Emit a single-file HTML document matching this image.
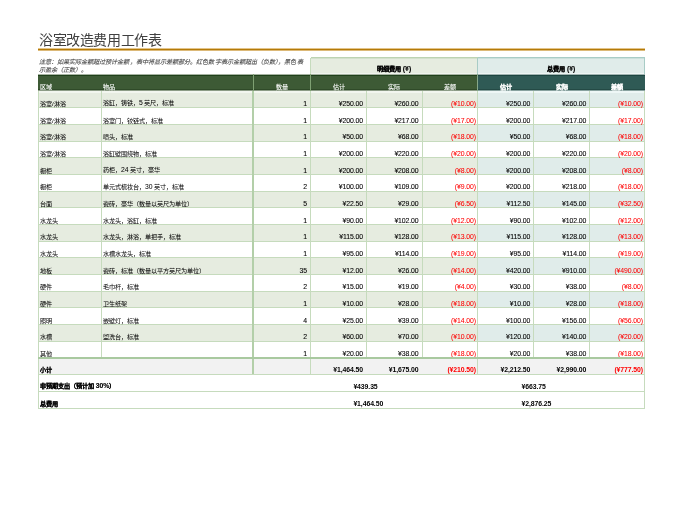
<!DOCTYPE html>
<html lang="zh-CN"><head><meta charset="utf-8"><style>
html,body{margin:0;padding:0;background:#fff;width:675px;height:520px;overflow:hidden;}
body{position:relative;font-family:"Liberation Sans",sans-serif;}
div{position:absolute;box-sizing:border-box;}
.t>span{display:block;}
#wrap{left:0;top:0;width:675px;height:520px;will-change:transform;}
.t{display:flex;align-items:flex-end;white-space:nowrap;line-height:1;color:#000;}
.cj{font-size:6.15px;-webkit-text-stroke:0.03px currentColor;}
.cj .d{font-size:6.8px;}
.num{font-size:6.9px;letter-spacing:-0.1px;-webkit-text-stroke:0.08px currentColor;}
.num.b{-webkit-text-stroke:0;}
.w{color:#fff;-webkit-text-stroke:0.08px #fff;}
.b{font-weight:bold;}
.cj.b{-webkit-text-stroke:0.15px currentColor;}
.red{color:#f00;}
.num.red{-webkit-text-stroke:0.05px #f00;}
.num.b.red{-webkit-text-stroke:0;}
#title{left:39px;top:33.2px;font-size:14px;letter-spacing:-0.4px;color:#404040;white-space:nowrap;line-height:1;}
#gold{left:38.3px;top:48.5px;width:606.5px;height:2px;background:#c48a12;}
#note{left:38.5px;top:57.5px;width:300px;font-size:6.1px;line-height:8.8px;letter-spacing:0.07px;font-style:italic;color:#4a4a4a;-webkit-text-stroke:0.1px #4a4a4a;white-space:nowrap;}
</style></head><body><div id="wrap">
<div id="title">浴室改造费用工作表</div>
<div style="left:38.3px;top:48px;width:606.5px;height:1px;background:#e3c48a;"></div><div style="left:38.3px;top:49px;width:606.5px;height:1px;background:#b47a08;"></div><div style="left:38.3px;top:50px;width:606.5px;height:1px;background:#dcb978;"></div>
<div id="note">注意：如果实际金额超过预计金额，表中将显示差额部分。红色数字表示金额超出（负数），黑色表<br>示盈余（正数）<span style="margin-left:3px">。</span></div>
<div style="left:310.50px;top:57.00px;width:167.30px;height:16.00px;background:#e6ece0;"></div>
<div style="left:477.80px;top:57.00px;width:167.00px;height:16.00px;background:#e0ecea;"></div>
<div style="left:310.50px;top:73.00px;width:167.30px;height:1.00px;background:#f0f4ee;"></div>
<div style="left:477.80px;top:73.00px;width:167.00px;height:1.00px;background:#eef5f4;"></div>
<div style="left:310.50px;top:57.00px;width:167.30px;height:1.00px;background:#bcd3b2;"></div>
<div style="left:477.80px;top:57.00px;width:167.00px;height:1.00px;background:#a8ccc6;"></div>
<div style="left:310.50px;top:58.00px;width:167.30px;height:1.00px;background:#d3e1cc;"></div>
<div style="left:477.80px;top:58.00px;width:167.00px;height:1.00px;background:#cbe0dc;"></div>
<div style="left:38.30px;top:74.00px;width:439.50px;height:1.00px;background:#a6b3a1;"></div>
<div style="left:477.80px;top:74.00px;width:167.00px;height:1.00px;background:#9fb3b0;"></div>
<div style="left:38.30px;top:75.00px;width:439.50px;height:1.00px;background:#1f401a;"></div>
<div style="left:477.80px;top:75.00px;width:167.00px;height:1.00px;background:#1c4540;"></div>
<div style="left:38.30px;top:76.00px;width:439.50px;height:13.00px;background:#3d5a35;"></div>
<div style="left:477.80px;top:76.00px;width:167.00px;height:13.00px;background:#2f5a55;"></div>
<div style="left:38.30px;top:89.00px;width:439.50px;height:1.00px;background:#2f4a28;"></div>
<div style="left:477.80px;top:89.00px;width:167.00px;height:1.00px;background:#244a45;"></div>
<div style="left:38.30px;top:90.00px;width:439.50px;height:1.00px;background:#8c9c86;"></div>
<div style="left:477.80px;top:90.00px;width:167.00px;height:1.00px;background:#88a29f;"></div>
<div style="left:38.30px;top:93.00px;width:439.50px;height:14.84px;background:#e6ece0;"></div>
<div style="left:477.80px;top:93.00px;width:167.00px;height:14.84px;background:#e0ecea;"></div>
<div style="left:38.30px;top:91.00px;width:439.50px;height:2.00px;background:#f2f6ef;"></div>
<div style="left:477.80px;top:91.00px;width:167.00px;height:2.00px;background:#eef7f6;"></div>
<div style="left:38.30px;top:124.52px;width:439.50px;height:16.67px;background:#e6ece0;"></div>
<div style="left:477.80px;top:124.52px;width:167.00px;height:16.67px;background:#e0ecea;"></div>
<div style="left:38.30px;top:157.87px;width:439.50px;height:16.67px;background:#e6ece0;"></div>
<div style="left:477.80px;top:157.87px;width:167.00px;height:16.67px;background:#e0ecea;"></div>
<div style="left:38.30px;top:191.21px;width:439.50px;height:16.67px;background:#e6ece0;"></div>
<div style="left:477.80px;top:191.21px;width:167.00px;height:16.67px;background:#e0ecea;"></div>
<div style="left:38.30px;top:224.56px;width:439.50px;height:16.67px;background:#e6ece0;"></div>
<div style="left:477.80px;top:224.56px;width:167.00px;height:16.67px;background:#e0ecea;"></div>
<div style="left:38.30px;top:257.91px;width:439.50px;height:16.67px;background:#e6ece0;"></div>
<div style="left:477.80px;top:257.91px;width:167.00px;height:16.67px;background:#e0ecea;"></div>
<div style="left:38.30px;top:291.26px;width:439.50px;height:16.67px;background:#e6ece0;"></div>
<div style="left:477.80px;top:291.26px;width:167.00px;height:16.67px;background:#e0ecea;"></div>
<div style="left:38.30px;top:324.61px;width:439.50px;height:16.67px;background:#e6ece0;"></div>
<div style="left:477.80px;top:324.61px;width:167.00px;height:16.67px;background:#e0ecea;"></div>
<div style="left:38.30px;top:357.95px;width:606.50px;height:16.45px;background:#f2f2f2;"></div>
<div style="left:38.30px;top:107.34px;width:606.50px;height:1.00px;background:#c6dbbd;"></div>
<div style="left:38.30px;top:124.02px;width:606.50px;height:1.00px;background:#c6dbbd;"></div>
<div style="left:38.30px;top:140.69px;width:606.50px;height:1.00px;background:#c6dbbd;"></div>
<div style="left:38.30px;top:157.37px;width:606.50px;height:1.00px;background:#c6dbbd;"></div>
<div style="left:38.30px;top:174.04px;width:606.50px;height:1.00px;background:#c6dbbd;"></div>
<div style="left:38.30px;top:190.71px;width:606.50px;height:1.00px;background:#c6dbbd;"></div>
<div style="left:38.30px;top:207.39px;width:606.50px;height:1.00px;background:#c6dbbd;"></div>
<div style="left:38.30px;top:224.06px;width:606.50px;height:1.00px;background:#c6dbbd;"></div>
<div style="left:38.30px;top:240.74px;width:606.50px;height:1.00px;background:#c6dbbd;"></div>
<div style="left:38.30px;top:257.41px;width:606.50px;height:1.00px;background:#c6dbbd;"></div>
<div style="left:38.30px;top:274.08px;width:606.50px;height:1.00px;background:#c6dbbd;"></div>
<div style="left:38.30px;top:290.76px;width:606.50px;height:1.00px;background:#c6dbbd;"></div>
<div style="left:38.30px;top:307.43px;width:606.50px;height:1.00px;background:#c6dbbd;"></div>
<div style="left:38.30px;top:324.11px;width:606.50px;height:1.00px;background:#c6dbbd;"></div>
<div style="left:38.30px;top:340.78px;width:606.50px;height:1.00px;background:#c6dbbd;"></div>
<div style="left:310.00px;top:57.70px;width:1.00px;height:16.30px;background:#c6dbbd;"></div>
<div style="left:477.30px;top:57.70px;width:1.00px;height:16.30px;background:#a8ccc6;"></div>
<div style="left:644.30px;top:57.70px;width:1.00px;height:16.30px;background:#a8ccc6;"></div>
<div style="left:252.60px;top:74.00px;width:1.00px;height:17.17px;background:#7fa173;"></div>
<div style="left:310.00px;top:74.00px;width:1.00px;height:17.17px;background:#7fa173;"></div>
<div style="left:477.30px;top:74.00px;width:1.00px;height:17.17px;background:#86a88a;"></div>
<div style="left:37.80px;top:91.17px;width:1.00px;height:266.78px;background:#c6dbbd;"></div>
<div style="left:100.80px;top:91.17px;width:1.00px;height:266.78px;background:#c6dbbd;"></div>
<div style="left:310.00px;top:91.17px;width:1.00px;height:266.78px;background:#c6dbbd;"></div>
<div style="left:366.10px;top:91.17px;width:1.00px;height:266.78px;background:#c6dbbd;"></div>
<div style="left:421.70px;top:91.17px;width:1.00px;height:266.78px;background:#c6dbbd;"></div>
<div style="left:477.30px;top:91.17px;width:1.00px;height:266.78px;background:#c6dbbd;"></div>
<div style="left:533.30px;top:91.17px;width:1.00px;height:266.78px;background:#c6dbbd;"></div>
<div style="left:589.30px;top:91.17px;width:1.00px;height:266.78px;background:#c6dbbd;"></div>
<div style="left:644.30px;top:91.17px;width:1.00px;height:266.78px;background:#c6dbbd;"></div>
<div style="left:252.10px;top:91.17px;width:2.00px;height:283.23px;background:#b3cfa9;"></div>
<div style="left:37.80px;top:357.95px;width:1.00px;height:16.45px;background:#c6dbbd;"></div>
<div style="left:310.00px;top:357.95px;width:1.00px;height:16.45px;background:#c6dbbd;"></div>
<div style="left:477.30px;top:357.95px;width:1.00px;height:16.45px;background:#c6dbbd;"></div>
<div style="left:644.30px;top:357.95px;width:1.00px;height:16.45px;background:#c6dbbd;"></div>
<div class="t cj" style="left:40.10px;top:87.04px;width:61.20px;height:20px;justify-content:flex-start;"><span>浴室/淋浴</span></div>
<div class="t cj" style="left:102.90px;top:87.04px;width:150.20px;height:20px;justify-content:flex-start;"><span>浴缸，铸铁，<span class=d>5</span> 英尺，标准</span></div>
<div class="t num" style="left:253.10px;top:87.84px;width:53.80px;height:20px;justify-content:flex-end;"><span>1</span></div>
<div class="t num" style="left:310.50px;top:87.84px;width:52.50px;height:20px;justify-content:flex-end;"><span>¥250.00</span></div>
<div class="t num" style="left:366.60px;top:87.84px;width:52.00px;height:20px;justify-content:flex-end;"><span>¥260.00</span></div>
<div class="t num red" style="left:422.20px;top:87.84px;width:53.80px;height:20px;justify-content:flex-end;"><span>(¥10.00)</span></div>
<div class="t num" style="left:477.80px;top:87.84px;width:52.40px;height:20px;justify-content:flex-end;"><span>¥250.00</span></div>
<div class="t num" style="left:533.80px;top:87.84px;width:52.40px;height:20px;justify-content:flex-end;"><span>¥260.00</span></div>
<div class="t num red" style="left:589.80px;top:87.84px;width:53.20px;height:20px;justify-content:flex-end;"><span>(¥10.00)</span></div>
<div class="t cj" style="left:40.10px;top:103.72px;width:61.20px;height:20px;justify-content:flex-start;"><span>浴室/淋浴</span></div>
<div class="t cj" style="left:102.90px;top:103.72px;width:150.20px;height:20px;justify-content:flex-start;"><span>浴室门，铰链式，标准</span></div>
<div class="t num" style="left:253.10px;top:104.52px;width:53.80px;height:20px;justify-content:flex-end;"><span>1</span></div>
<div class="t num" style="left:310.50px;top:104.52px;width:52.50px;height:20px;justify-content:flex-end;"><span>¥200.00</span></div>
<div class="t num" style="left:366.60px;top:104.52px;width:52.00px;height:20px;justify-content:flex-end;"><span>¥217.00</span></div>
<div class="t num red" style="left:422.20px;top:104.52px;width:53.80px;height:20px;justify-content:flex-end;"><span>(¥17.00)</span></div>
<div class="t num" style="left:477.80px;top:104.52px;width:52.40px;height:20px;justify-content:flex-end;"><span>¥200.00</span></div>
<div class="t num" style="left:533.80px;top:104.52px;width:52.40px;height:20px;justify-content:flex-end;"><span>¥217.00</span></div>
<div class="t num red" style="left:589.80px;top:104.52px;width:53.20px;height:20px;justify-content:flex-end;"><span>(¥17.00)</span></div>
<div class="t cj" style="left:40.10px;top:120.39px;width:61.20px;height:20px;justify-content:flex-start;"><span>浴室/淋浴</span></div>
<div class="t cj" style="left:102.90px;top:120.39px;width:150.20px;height:20px;justify-content:flex-start;"><span>喷头，标准</span></div>
<div class="t num" style="left:253.10px;top:121.19px;width:53.80px;height:20px;justify-content:flex-end;"><span>1</span></div>
<div class="t num" style="left:310.50px;top:121.19px;width:52.50px;height:20px;justify-content:flex-end;"><span>¥50.00</span></div>
<div class="t num" style="left:366.60px;top:121.19px;width:52.00px;height:20px;justify-content:flex-end;"><span>¥68.00</span></div>
<div class="t num red" style="left:422.20px;top:121.19px;width:53.80px;height:20px;justify-content:flex-end;"><span>(¥18.00)</span></div>
<div class="t num" style="left:477.80px;top:121.19px;width:52.40px;height:20px;justify-content:flex-end;"><span>¥50.00</span></div>
<div class="t num" style="left:533.80px;top:121.19px;width:52.40px;height:20px;justify-content:flex-end;"><span>¥68.00</span></div>
<div class="t num red" style="left:589.80px;top:121.19px;width:53.20px;height:20px;justify-content:flex-end;"><span>(¥18.00)</span></div>
<div class="t cj" style="left:40.10px;top:137.07px;width:61.20px;height:20px;justify-content:flex-start;"><span>浴室/淋浴</span></div>
<div class="t cj" style="left:102.90px;top:137.07px;width:150.20px;height:20px;justify-content:flex-start;"><span>浴缸壁围绕物，标准</span></div>
<div class="t num" style="left:253.10px;top:137.87px;width:53.80px;height:20px;justify-content:flex-end;"><span>1</span></div>
<div class="t num" style="left:310.50px;top:137.87px;width:52.50px;height:20px;justify-content:flex-end;"><span>¥200.00</span></div>
<div class="t num" style="left:366.60px;top:137.87px;width:52.00px;height:20px;justify-content:flex-end;"><span>¥220.00</span></div>
<div class="t num red" style="left:422.20px;top:137.87px;width:53.80px;height:20px;justify-content:flex-end;"><span>(¥20.00)</span></div>
<div class="t num" style="left:477.80px;top:137.87px;width:52.40px;height:20px;justify-content:flex-end;"><span>¥200.00</span></div>
<div class="t num" style="left:533.80px;top:137.87px;width:52.40px;height:20px;justify-content:flex-end;"><span>¥220.00</span></div>
<div class="t num red" style="left:589.80px;top:137.87px;width:53.20px;height:20px;justify-content:flex-end;"><span>(¥20.00)</span></div>
<div class="t cj" style="left:40.10px;top:153.74px;width:61.20px;height:20px;justify-content:flex-start;"><span>橱柜</span></div>
<div class="t cj" style="left:102.90px;top:153.74px;width:150.20px;height:20px;justify-content:flex-start;"><span>药柜，<span class=d>24</span> 英寸，豪华</span></div>
<div class="t num" style="left:253.10px;top:154.54px;width:53.80px;height:20px;justify-content:flex-end;"><span>1</span></div>
<div class="t num" style="left:310.50px;top:154.54px;width:52.50px;height:20px;justify-content:flex-end;"><span>¥200.00</span></div>
<div class="t num" style="left:366.60px;top:154.54px;width:52.00px;height:20px;justify-content:flex-end;"><span>¥208.00</span></div>
<div class="t num red" style="left:422.20px;top:154.54px;width:53.80px;height:20px;justify-content:flex-end;"><span>(¥8.00)</span></div>
<div class="t num" style="left:477.80px;top:154.54px;width:52.40px;height:20px;justify-content:flex-end;"><span>¥200.00</span></div>
<div class="t num" style="left:533.80px;top:154.54px;width:52.40px;height:20px;justify-content:flex-end;"><span>¥208.00</span></div>
<div class="t num red" style="left:589.80px;top:154.54px;width:53.20px;height:20px;justify-content:flex-end;"><span>(¥8.00)</span></div>
<div class="t cj" style="left:40.10px;top:170.41px;width:61.20px;height:20px;justify-content:flex-start;"><span>橱柜</span></div>
<div class="t cj" style="left:102.90px;top:170.41px;width:150.20px;height:20px;justify-content:flex-start;"><span>单元式梳妆台，<span class=d>30</span> 英寸，标准</span></div>
<div class="t num" style="left:253.10px;top:171.21px;width:53.80px;height:20px;justify-content:flex-end;"><span>2</span></div>
<div class="t num" style="left:310.50px;top:171.21px;width:52.50px;height:20px;justify-content:flex-end;"><span>¥100.00</span></div>
<div class="t num" style="left:366.60px;top:171.21px;width:52.00px;height:20px;justify-content:flex-end;"><span>¥109.00</span></div>
<div class="t num red" style="left:422.20px;top:171.21px;width:53.80px;height:20px;justify-content:flex-end;"><span>(¥9.00)</span></div>
<div class="t num" style="left:477.80px;top:171.21px;width:52.40px;height:20px;justify-content:flex-end;"><span>¥200.00</span></div>
<div class="t num" style="left:533.80px;top:171.21px;width:52.40px;height:20px;justify-content:flex-end;"><span>¥218.00</span></div>
<div class="t num red" style="left:589.80px;top:171.21px;width:53.20px;height:20px;justify-content:flex-end;"><span>(¥18.00)</span></div>
<div class="t cj" style="left:40.10px;top:187.09px;width:61.20px;height:20px;justify-content:flex-start;"><span>台面</span></div>
<div class="t cj" style="left:102.90px;top:187.09px;width:150.20px;height:20px;justify-content:flex-start;"><span>瓷砖，豪华（数量以英尺为单位）</span></div>
<div class="t num" style="left:253.10px;top:187.89px;width:53.80px;height:20px;justify-content:flex-end;"><span>5</span></div>
<div class="t num" style="left:310.50px;top:187.89px;width:52.50px;height:20px;justify-content:flex-end;"><span>¥22.50</span></div>
<div class="t num" style="left:366.60px;top:187.89px;width:52.00px;height:20px;justify-content:flex-end;"><span>¥29.00</span></div>
<div class="t num red" style="left:422.20px;top:187.89px;width:53.80px;height:20px;justify-content:flex-end;"><span>(¥6.50)</span></div>
<div class="t num" style="left:477.80px;top:187.89px;width:52.40px;height:20px;justify-content:flex-end;"><span>¥112.50</span></div>
<div class="t num" style="left:533.80px;top:187.89px;width:52.40px;height:20px;justify-content:flex-end;"><span>¥145.00</span></div>
<div class="t num red" style="left:589.80px;top:187.89px;width:53.20px;height:20px;justify-content:flex-end;"><span>(¥32.50)</span></div>
<div class="t cj" style="left:40.10px;top:203.76px;width:61.20px;height:20px;justify-content:flex-start;"><span>水龙头</span></div>
<div class="t cj" style="left:102.90px;top:203.76px;width:150.20px;height:20px;justify-content:flex-start;"><span>水龙头，浴缸，标准</span></div>
<div class="t num" style="left:253.10px;top:204.56px;width:53.80px;height:20px;justify-content:flex-end;"><span>1</span></div>
<div class="t num" style="left:310.50px;top:204.56px;width:52.50px;height:20px;justify-content:flex-end;"><span>¥90.00</span></div>
<div class="t num" style="left:366.60px;top:204.56px;width:52.00px;height:20px;justify-content:flex-end;"><span>¥102.00</span></div>
<div class="t num red" style="left:422.20px;top:204.56px;width:53.80px;height:20px;justify-content:flex-end;"><span>(¥12.00)</span></div>
<div class="t num" style="left:477.80px;top:204.56px;width:52.40px;height:20px;justify-content:flex-end;"><span>¥90.00</span></div>
<div class="t num" style="left:533.80px;top:204.56px;width:52.40px;height:20px;justify-content:flex-end;"><span>¥102.00</span></div>
<div class="t num red" style="left:589.80px;top:204.56px;width:53.20px;height:20px;justify-content:flex-end;"><span>(¥12.00)</span></div>
<div class="t cj" style="left:40.10px;top:220.44px;width:61.20px;height:20px;justify-content:flex-start;"><span>水龙头</span></div>
<div class="t cj" style="left:102.90px;top:220.44px;width:150.20px;height:20px;justify-content:flex-start;"><span>水龙头，淋浴，单把手，标准</span></div>
<div class="t num" style="left:253.10px;top:221.24px;width:53.80px;height:20px;justify-content:flex-end;"><span>1</span></div>
<div class="t num" style="left:310.50px;top:221.24px;width:52.50px;height:20px;justify-content:flex-end;"><span>¥115.00</span></div>
<div class="t num" style="left:366.60px;top:221.24px;width:52.00px;height:20px;justify-content:flex-end;"><span>¥128.00</span></div>
<div class="t num red" style="left:422.20px;top:221.24px;width:53.80px;height:20px;justify-content:flex-end;"><span>(¥13.00)</span></div>
<div class="t num" style="left:477.80px;top:221.24px;width:52.40px;height:20px;justify-content:flex-end;"><span>¥115.00</span></div>
<div class="t num" style="left:533.80px;top:221.24px;width:52.40px;height:20px;justify-content:flex-end;"><span>¥128.00</span></div>
<div class="t num red" style="left:589.80px;top:221.24px;width:53.20px;height:20px;justify-content:flex-end;"><span>(¥13.00)</span></div>
<div class="t cj" style="left:40.10px;top:237.11px;width:61.20px;height:20px;justify-content:flex-start;"><span>水龙头</span></div>
<div class="t cj" style="left:102.90px;top:237.11px;width:150.20px;height:20px;justify-content:flex-start;"><span>水槽水龙头，标准</span></div>
<div class="t num" style="left:253.10px;top:237.91px;width:53.80px;height:20px;justify-content:flex-end;"><span>1</span></div>
<div class="t num" style="left:310.50px;top:237.91px;width:52.50px;height:20px;justify-content:flex-end;"><span>¥95.00</span></div>
<div class="t num" style="left:366.60px;top:237.91px;width:52.00px;height:20px;justify-content:flex-end;"><span>¥114.00</span></div>
<div class="t num red" style="left:422.20px;top:237.91px;width:53.80px;height:20px;justify-content:flex-end;"><span>(¥19.00)</span></div>
<div class="t num" style="left:477.80px;top:237.91px;width:52.40px;height:20px;justify-content:flex-end;"><span>¥95.00</span></div>
<div class="t num" style="left:533.80px;top:237.91px;width:52.40px;height:20px;justify-content:flex-end;"><span>¥114.00</span></div>
<div class="t num red" style="left:589.80px;top:237.91px;width:53.20px;height:20px;justify-content:flex-end;"><span>(¥19.00)</span></div>
<div class="t cj" style="left:40.10px;top:253.78px;width:61.20px;height:20px;justify-content:flex-start;"><span>地板</span></div>
<div class="t cj" style="left:102.90px;top:253.78px;width:150.20px;height:20px;justify-content:flex-start;"><span>瓷砖，标准（数量以平方英尺为单位）</span></div>
<div class="t num" style="left:253.10px;top:254.58px;width:53.80px;height:20px;justify-content:flex-end;"><span>35</span></div>
<div class="t num" style="left:310.50px;top:254.58px;width:52.50px;height:20px;justify-content:flex-end;"><span>¥12.00</span></div>
<div class="t num" style="left:366.60px;top:254.58px;width:52.00px;height:20px;justify-content:flex-end;"><span>¥26.00</span></div>
<div class="t num red" style="left:422.20px;top:254.58px;width:53.80px;height:20px;justify-content:flex-end;"><span>(¥14.00)</span></div>
<div class="t num" style="left:477.80px;top:254.58px;width:52.40px;height:20px;justify-content:flex-end;"><span>¥420.00</span></div>
<div class="t num" style="left:533.80px;top:254.58px;width:52.40px;height:20px;justify-content:flex-end;"><span>¥910.00</span></div>
<div class="t num red" style="left:589.80px;top:254.58px;width:53.20px;height:20px;justify-content:flex-end;"><span>(¥490.00)</span></div>
<div class="t cj" style="left:40.10px;top:270.46px;width:61.20px;height:20px;justify-content:flex-start;"><span>硬件</span></div>
<div class="t cj" style="left:102.90px;top:270.46px;width:150.20px;height:20px;justify-content:flex-start;"><span>毛巾杆，标准</span></div>
<div class="t num" style="left:253.10px;top:271.26px;width:53.80px;height:20px;justify-content:flex-end;"><span>2</span></div>
<div class="t num" style="left:310.50px;top:271.26px;width:52.50px;height:20px;justify-content:flex-end;"><span>¥15.00</span></div>
<div class="t num" style="left:366.60px;top:271.26px;width:52.00px;height:20px;justify-content:flex-end;"><span>¥19.00</span></div>
<div class="t num red" style="left:422.20px;top:271.26px;width:53.80px;height:20px;justify-content:flex-end;"><span>(¥4.00)</span></div>
<div class="t num" style="left:477.80px;top:271.26px;width:52.40px;height:20px;justify-content:flex-end;"><span>¥30.00</span></div>
<div class="t num" style="left:533.80px;top:271.26px;width:52.40px;height:20px;justify-content:flex-end;"><span>¥38.00</span></div>
<div class="t num red" style="left:589.80px;top:271.26px;width:53.20px;height:20px;justify-content:flex-end;"><span>(¥8.00)</span></div>
<div class="t cj" style="left:40.10px;top:287.13px;width:61.20px;height:20px;justify-content:flex-start;"><span>硬件</span></div>
<div class="t cj" style="left:102.90px;top:287.13px;width:150.20px;height:20px;justify-content:flex-start;"><span>卫生纸架</span></div>
<div class="t num" style="left:253.10px;top:287.93px;width:53.80px;height:20px;justify-content:flex-end;"><span>1</span></div>
<div class="t num" style="left:310.50px;top:287.93px;width:52.50px;height:20px;justify-content:flex-end;"><span>¥10.00</span></div>
<div class="t num" style="left:366.60px;top:287.93px;width:52.00px;height:20px;justify-content:flex-end;"><span>¥28.00</span></div>
<div class="t num red" style="left:422.20px;top:287.93px;width:53.80px;height:20px;justify-content:flex-end;"><span>(¥18.00)</span></div>
<div class="t num" style="left:477.80px;top:287.93px;width:52.40px;height:20px;justify-content:flex-end;"><span>¥10.00</span></div>
<div class="t num" style="left:533.80px;top:287.93px;width:52.40px;height:20px;justify-content:flex-end;"><span>¥28.00</span></div>
<div class="t num red" style="left:589.80px;top:287.93px;width:53.20px;height:20px;justify-content:flex-end;"><span>(¥18.00)</span></div>
<div class="t cj" style="left:40.10px;top:303.81px;width:61.20px;height:20px;justify-content:flex-start;"><span>照明</span></div>
<div class="t cj" style="left:102.90px;top:303.81px;width:150.20px;height:20px;justify-content:flex-start;"><span>嵌壁灯，标准</span></div>
<div class="t num" style="left:253.10px;top:304.61px;width:53.80px;height:20px;justify-content:flex-end;"><span>4</span></div>
<div class="t num" style="left:310.50px;top:304.61px;width:52.50px;height:20px;justify-content:flex-end;"><span>¥25.00</span></div>
<div class="t num" style="left:366.60px;top:304.61px;width:52.00px;height:20px;justify-content:flex-end;"><span>¥39.00</span></div>
<div class="t num red" style="left:422.20px;top:304.61px;width:53.80px;height:20px;justify-content:flex-end;"><span>(¥14.00)</span></div>
<div class="t num" style="left:477.80px;top:304.61px;width:52.40px;height:20px;justify-content:flex-end;"><span>¥100.00</span></div>
<div class="t num" style="left:533.80px;top:304.61px;width:52.40px;height:20px;justify-content:flex-end;"><span>¥156.00</span></div>
<div class="t num red" style="left:589.80px;top:304.61px;width:53.20px;height:20px;justify-content:flex-end;"><span>(¥56.00)</span></div>
<div class="t cj" style="left:40.10px;top:320.48px;width:61.20px;height:20px;justify-content:flex-start;"><span>水槽</span></div>
<div class="t cj" style="left:102.90px;top:320.48px;width:150.20px;height:20px;justify-content:flex-start;"><span>盥洗台，标准</span></div>
<div class="t num" style="left:253.10px;top:321.28px;width:53.80px;height:20px;justify-content:flex-end;"><span>2</span></div>
<div class="t num" style="left:310.50px;top:321.28px;width:52.50px;height:20px;justify-content:flex-end;"><span>¥60.00</span></div>
<div class="t num" style="left:366.60px;top:321.28px;width:52.00px;height:20px;justify-content:flex-end;"><span>¥70.00</span></div>
<div class="t num red" style="left:422.20px;top:321.28px;width:53.80px;height:20px;justify-content:flex-end;"><span>(¥10.00)</span></div>
<div class="t num" style="left:477.80px;top:321.28px;width:52.40px;height:20px;justify-content:flex-end;"><span>¥120.00</span></div>
<div class="t num" style="left:533.80px;top:321.28px;width:52.40px;height:20px;justify-content:flex-end;"><span>¥140.00</span></div>
<div class="t num red" style="left:589.80px;top:321.28px;width:53.20px;height:20px;justify-content:flex-end;"><span>(¥20.00)</span></div>
<div class="t cj" style="left:40.10px;top:337.15px;width:61.20px;height:20px;justify-content:flex-start;"><span>其他</span></div>
<div class="t cj" style="left:102.90px;top:337.15px;width:150.20px;height:20px;justify-content:flex-start;"><span></span></div>
<div class="t num" style="left:253.10px;top:337.95px;width:53.80px;height:20px;justify-content:flex-end;"><span>1</span></div>
<div class="t num" style="left:310.50px;top:337.95px;width:52.50px;height:20px;justify-content:flex-end;"><span>¥20.00</span></div>
<div class="t num" style="left:366.60px;top:337.95px;width:52.00px;height:20px;justify-content:flex-end;"><span>¥38.00</span></div>
<div class="t num red" style="left:422.20px;top:337.95px;width:53.80px;height:20px;justify-content:flex-end;"><span>(¥18.00)</span></div>
<div class="t num" style="left:477.80px;top:337.95px;width:52.40px;height:20px;justify-content:flex-end;"><span>¥20.00</span></div>
<div class="t num" style="left:533.80px;top:337.95px;width:52.40px;height:20px;justify-content:flex-end;"><span>¥38.00</span></div>
<div class="t num red" style="left:589.80px;top:337.95px;width:53.20px;height:20px;justify-content:flex-end;"><span>(¥18.00)</span></div>
<div class="t cj w" style="left:40.10px;top:69.97px;width:61.20px;height:20px;justify-content:flex-start;"><span>区域</span></div>
<div class="t cj w" style="left:102.90px;top:69.97px;width:150.20px;height:20px;justify-content:flex-start;"><span>物品</span></div>
<div class="t cj w" style="left:253.10px;top:69.97px;width:57.40px;height:20px;justify-content:center;"><span>数量</span></div>
<div class="t cj w" style="left:310.50px;top:69.97px;width:56.10px;height:20px;justify-content:center;"><span>估计</span></div>
<div class="t cj w" style="left:366.60px;top:69.97px;width:55.60px;height:20px;justify-content:center;"><span>实际</span></div>
<div class="t cj w" style="left:422.20px;top:69.97px;width:55.60px;height:20px;justify-content:center;"><span>差额</span></div>
<div class="t cj w b" style="left:477.80px;top:69.97px;width:56.00px;height:20px;justify-content:center;"><span>估计</span></div>
<div class="t cj w b" style="left:533.80px;top:69.97px;width:56.00px;height:20px;justify-content:center;"><span>实际</span></div>
<div class="t cj w b" style="left:589.80px;top:69.97px;width:55.00px;height:20px;justify-content:center;"><span>差额</span></div>
<div class="t cj b" style="left:310.50px;top:53.00px;width:167.30px;height:20px;justify-content:center;"><span>明细费用 <span class=d>(¥)</span></span></div>
<div class="t cj b" style="left:477.80px;top:53.00px;width:167.00px;height:20px;justify-content:center;"><span>总费用 <span class=d>(¥)</span></span></div>
<div class="t cj b" style="left:40.10px;top:352.80px;width:270.40px;height:20px;justify-content:flex-start;"><span>小计</span></div>
<div class="t num b" style="left:310.50px;top:354.40px;width:52.50px;height:20px;justify-content:flex-end;"><span>¥1,464.50</span></div>
<div class="t num b" style="left:366.60px;top:354.40px;width:52.00px;height:20px;justify-content:flex-end;"><span>¥1,675.00</span></div>
<div class="t num b red" style="left:422.20px;top:354.40px;width:53.80px;height:20px;justify-content:flex-end;"><span>(¥210.50)</span></div>
<div class="t num b" style="left:477.80px;top:354.40px;width:52.40px;height:20px;justify-content:flex-end;"><span>¥2,212.50</span></div>
<div class="t num b" style="left:533.80px;top:354.40px;width:52.40px;height:20px;justify-content:flex-end;"><span>¥2,990.00</span></div>
<div class="t num b red" style="left:589.80px;top:354.40px;width:53.20px;height:20px;justify-content:flex-end;"><span>(¥777.50)</span></div>
<div style="left:38.30px;top:373.90px;width:606.50px;height:1.00px;background:#c6dbbd;"></div>
<div class="t cj b" style="left:40.10px;top:370.20px;width:437.70px;height:20px;justify-content:flex-start;"><span>非预期支出（预计加 <span class=d>30%</span>）</span></div>
<div class="t num b" style="left:353.40px;top:371.20px;width:124.40px;height:20px;justify-content:flex-start;"><span>¥439.35</span></div>
<div class="t num b" style="left:521.50px;top:371.20px;width:123.30px;height:20px;justify-content:flex-start;"><span>¥663.75</span></div>
<div style="left:38.30px;top:390.70px;width:606.50px;height:1.00px;background:#c6dbbd;"></div>
<div class="t cj b" style="left:40.10px;top:387.00px;width:437.70px;height:20px;justify-content:flex-start;"><span>总费用</span></div>
<div class="t num b" style="left:353.40px;top:388.00px;width:124.40px;height:20px;justify-content:flex-start;"><span>¥1,464.50</span></div>
<div class="t num b" style="left:521.50px;top:388.00px;width:123.30px;height:20px;justify-content:flex-start;"><span>¥2,876.25</span></div>
<div style="left:38.30px;top:407.50px;width:606.50px;height:1.00px;background:#c6dbbd;"></div>
<div style="left:37.80px;top:374.40px;width:1.00px;height:33.60px;background:#c6dbbd;"></div>
<div style="left:644.30px;top:374.40px;width:1.00px;height:33.60px;background:#c6dbbd;"></div>
<div style="left:38.30px;top:357.25px;width:606.50px;height:2.00px;background:#a9c9a0;"></div>
</div></body></html>
